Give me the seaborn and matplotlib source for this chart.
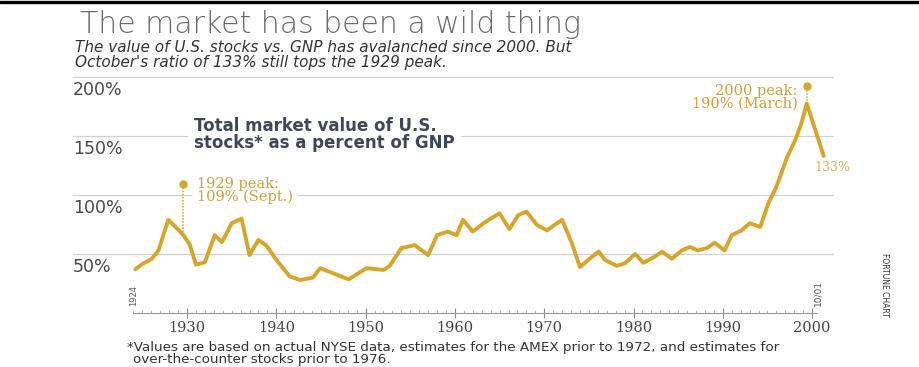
import numpy as np
import matplotlib
matplotlib.use("Agg")
import matplotlib.pyplot as plt
import matplotlib.transforms as mtransforms
from matplotlib.lines import Line2D
from matplotlib.ticker import FixedLocator
import seaborn as sns

# ---------------- data ----------------
years = [1924.2, 1925.1, 1926.0, 1926.8, 1927.9, 1928.7, 1929.6, 1930.3, 1931.0,
         1932.0, 1933.1, 1933.9, 1935.0, 1936.1, 1937.0, 1938.0, 1938.9, 1940.0,
         1941.5, 1942.7, 1944.1, 1944.9, 1948.1, 1950.1, 1952.0, 1952.7, 1954.0,
         1955.5, 1957.0, 1958.0, 1959.2, 1960.2, 1960.9, 1962.0, 1963.2, 1964.0,
         1965.0, 1966.1, 1967.1, 1968.0, 1969.2, 1970.3, 1972.0, 1973.1, 1974.0,
         1975.1, 1976.1, 1976.8, 1978.1, 1979.0, 1980.2, 1981.1, 1982.2, 1983.2,
         1984.3, 1985.4, 1986.3, 1987.2, 1988.2, 1989.1, 1990.2, 1991.0, 1992.1,
         1993.0, 1994.2, 1995.1, 1996.0, 1997.2, 1998.1, 1998.8, 1999.4, 2001.3]
values = [37, 42, 45.5, 53, 79, 73, 66, 58, 41,
          43, 66, 60, 76, 80, 49, 62, 57, 45,
          31, 28, 30, 38, 28.5, 38, 36.5, 40, 55,
          57.5, 49, 66, 69, 66, 79, 69, 76, 80,
          84.5, 71, 83, 86, 74.5, 70, 79, 59, 39,
          46, 52, 45, 40, 42, 50, 42.5, 47, 52,
          46, 53, 56, 53, 55, 59.5, 53, 66, 70,
          76, 73, 93, 107, 132, 146.5, 160.7, 177.5, 133]

x_ticks = [1930, 1940, 1950, 1960, 1970, 1980, 1990, 2000]
x_tick_labels = ["1930", "1940", "1950", "1960", "1970", "1980", "1990", "2000"]
y_ticks = [50, 100, 150, 200]
y_tick_labels = ["50%", "100%", "150%", "200%"]

axis_start, axis_end = 1924, 2000.6
peak_years = [1929.6, 1999.4]
peak_values = [109, 192]
end_value_label = "133%"

title = "The market has been a wild thing"
subtitle_lines = ["The value of U.S. stocks vs. GNP has avalanched since 2000. But",
                  "October's ratio of 133% still tops the 1929 peak."]
inner_label = "Total market value of U.S.\nstocks* as a percent of GNP"
peak_labels = ["1929 peak:\n109% (Sept.)", "2000 peak:\n190% (March)"]
footnote_lines = ["*Values are based on actual NYSE data, estimates for the AMEX prior to 1972, and estimates for",
                  "over-the-counter stocks prior to 1976."]

# ---------------- style ----------------
sns.set_theme(style="white")
plt.rcParams["font.family"] = ["DejaVu Sans"]

GOLD = "#D8A52A"
GOLD_TXT = "#CFA03A"
GRID = "#d2d2d2"
DARK = "#444444"

W, H = 920, 367
fig = plt.figure(figsize=(W / 100, H / 100), dpi=100)
fig.patch.set_facecolor("white")

ax_left, ax_right, ax_bottom, ax_top = 73, 834, 313, 65.2
ax = fig.add_axes([ax_left / W, 1 - ax_bottom / H, (ax_right - ax_left) / W, (ax_bottom - ax_top) / H])
ax.set_facecolor("white")

sns.lineplot(x=years, y=values, ax=ax, color=GOLD, lw=2.8, zorder=2)

ax.set_xlim(1917.23, 2002.45)
ax.set_ylim(0, 210)

# grid
ax.set_yticks(y_ticks)
ax.yaxis.grid(True, color=GRID, lw=0.9)
ax.xaxis.grid(False)
ax.set_axisbelow(True)
ax.tick_params(axis="y", which="both", length=0, labelleft=False, left=False)

for s in ["top", "right", "left"]:
    ax.spines[s].set_visible(False)
ax.spines["bottom"].set_position(("data", 0))
ax.spines["bottom"].set_bounds(axis_start, axis_end)
ax.spines["bottom"].set_color("#9a9a9a")
ax.spines["bottom"].set_linewidth(0.8)

ax.set_xticks(x_ticks)
ax.set_xticklabels(x_tick_labels, family="DejaVu Serif", fontsize=10.5, color=DARK)
ax.xaxis.set_minor_locator(FixedLocator(list(range(axis_start, 2001))))
ax.tick_params(axis="x", which="both", bottom=True, top=False)
ax.tick_params(axis="x", which="major", direction="inout", length=7, width=0.8,
               color="#8a8a8a", pad=2)
ax.tick_params(axis="x", which="minor", direction="in", length=2.5, width=0.6,
               color="#a8a8a8")
ax.set_xlabel("")
ax.set_ylabel("")

# y labels under their gridlines
blend = mtransforms.blended_transform_factory(ax.transAxes, ax.transData)
for v, lab in zip(y_ticks, y_tick_labels):
    ax.text(0.0, v - 3.2, lab, transform=blend, ha="left", va="top",
            fontsize=12.5, color="#4a4a4a")

# inner label
ax.text(1930.8, 151.5, inner_label, ha="left", va="center", fontsize=12,
        fontweight="bold", color="#3e4757", linespacing=0.95,
        bbox=dict(boxstyle="square,pad=0.4", fc="white", ec="none"), zorder=3)

# peak annotations
line_at_peaks = np.interp(peak_years, years, values)
for py, pv, lv in zip(peak_years, peak_values, line_at_peaks):
    ax.plot([py, py], [lv, pv], color=GOLD, lw=1.1, ls=(0, (1, 1)), zorder=2)
    ax.plot([py], [pv], marker="o", ms=5, color=GOLD, zorder=4)

ax.text(peak_years[0] + 1.5, 104, peak_labels[0], ha="left", va="center",
        family="DejaVu Serif", fontsize=10.5, color=GOLD_TXT, linespacing=0.85,
        bbox=dict(boxstyle="square,pad=0.35", fc="white", ec="none"), zorder=3)
ax.text(peak_years[1] - 1.05, 183, peak_labels[1], ha="right", va="center",
        family="DejaVu Serif", fontsize=10.5, color=GOLD_TXT, linespacing=0.85, zorder=3)

ax.text(years[-1] + 1.0, 123, end_value_label, ha="center", va="center",
        family="DejaVu Serif", fontsize=9, color="#D9B05A")

# rotated date marks on the axis
ax.text(axis_start, 6, "1924", rotation=90, ha="center", va="bottom",
        fontsize=6, color="#555555")
ax.text(axis_end, 6, "10/01", rotation=90, ha="center", va="bottom",
        fontsize=6.5, color="#555555")

# ---------------- figure texts ----------------
fig.add_artist(Line2D([0, 1], [1 - 1.5 / H, 1 - 1.5 / H], color="black", lw=2.4))
fig.text(80 / W, 1 - 33 / H, title, ha="left", va="baseline", fontsize=21.5,
         color="#6a6a6a", fontweight="light")
fig.text(75 / W, 1 - 52 / H, subtitle_lines[0], ha="left", va="baseline",
         fontsize=11, style="italic", color="#333333")
fig.text(75 / W, 1 - 67.5 / H, subtitle_lines[1], ha="left", va="baseline",
         fontsize=11, style="italic", color="#333333")

fig.text(885 / W, 1 - 285 / H, "FORTUNE CHART", rotation=270, ha="center", va="center",
         fontsize=5.5, color="#333333", family=["Liberation Sans Narrow", "DejaVu Sans"])

fig.text(127 / W, 1 - 351 / H, footnote_lines[0], ha="left", va="baseline",
         fontsize=9.7, color="#333333")
fig.text(133 / W, 1 - 363.5 / H, footnote_lines[1], ha="left", va="baseline",
         fontsize=9.7, color="#333333")

fig.savefig("out.png", dpi=100, facecolor="white")
